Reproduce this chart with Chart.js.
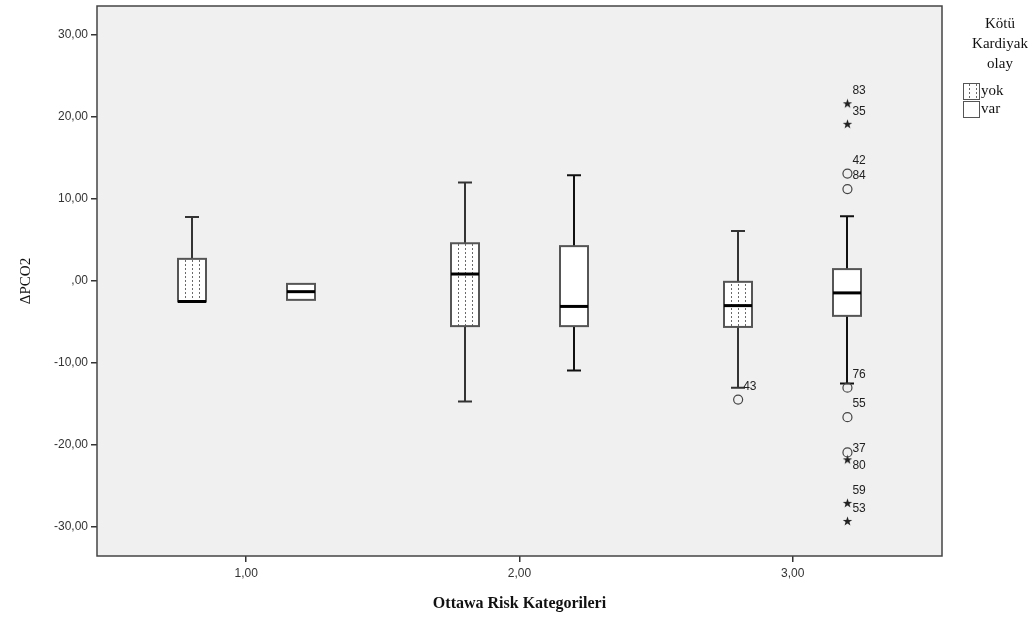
<!DOCTYPE html>
<html>
<head>
<meta charset="utf-8">
<script src="https://cdn.jsdelivr.net/npm/chart.js@4.4.1/dist/chart.umd.min.js"></script>
<style>
  html, body { margin: 0; padding: 0; background: #fff; }
</style>
</head>
<body>
<canvas id="chart" width="1035" height="618"></canvas>
<script>
// categories on the x axis and the two groups (Kötü Kardiyak olay)
const categories = [1, 2, 3];
const groups = ["yok", "var"];

// box statistics per category
const yokMin = [-2.5, -14.7, -13.0];
const yokQ1 = [-2.5, -5.5, -5.6];
const yokMedian = [-2.5, 0.85, -3.0];
const yokQ3 = [2.7, 4.6, -0.1];
const yokMax = [7.8, 12.0, 6.1];

const varMin = [-2.3, -10.9, -12.5];
const varQ1 = [-2.3, -5.5, -4.25];
const varMedian = [-1.3, -3.1, -1.45];
const varQ3 = [-0.35, 4.25, 1.45];
const varMax = [-0.35, 12.9, 7.9];

// outliers: category, group, value, case label, kind (o = outlier, * = extreme)
const outCategory = [3, 3, 3, 3, 3, 3, 3, 3, 3, 3, 3];
const outGroup = ["yok", "var", "var", "var", "var", "var", "var", "var", "var", "var", "var"];
const outValue = [-14.45, 21.6, 19.1, 13.1, 11.2, -13.0, -16.6, -20.9, -21.8, -27.1, -29.3];
const outLabel = ["43", "83", "35", "42", "84", "76", "55", "37", "80", "59", "53"];
const outKind = ["o", "*", "*", "o", "o", "o", "o", "o", "*", "*", "*"];

const xTicks = [1, 2, 3];
const yTicks = [-30, -20, -10, 0, 10, 20, 30];

// layout / style
const groupOffset = { yok: -0.2, var: 0.2 };
const labelShift = { "37": 9, "80": 19 };
const BOX_W = 28;
const CAP_W = 14;

const stats = {
  yok: { min: yokMin, q1: yokQ1, med: yokMedian, q3: yokQ3, max: yokMax },
  var: { min: varMin, q1: varQ1, med: varMedian, q3: varQ3, max: varMax }
};

function dotPattern(ctx) {
  const c = document.createElement("canvas");
  c.width = 7;
  c.height = 4;
  const g = c.getContext("2d");
  g.fillStyle = "#fff";
  g.fillRect(0, 0, 7, 4);
  g.fillStyle = "#6a6a6a";
  g.fillRect(3, 0, 1, 2);
  return ctx.createPattern(c, "repeat");
}

function starImage() {
  const c = document.createElement("canvas");
  c.width = 11;
  c.height = 11;
  const g = c.getContext("2d");
  g.fillStyle = "#222";
  g.beginPath();
  for (let i = 0; i < 10; i++) {
    const r = i % 2 === 0 ? 5 : 2;
    const a = -Math.PI / 2 + i * Math.PI / 5;
    const px = 5.5 + r * Math.cos(a);
    const py = 5.5 + r * Math.sin(a);
    if (i === 0) g.moveTo(px, py); else g.lineTo(px, py);
  }
  g.closePath();
  g.fill();
  return c;
}

function fmt(v) {
  if (v === 0) return ",00";
  return v.toFixed(2).replace(".", ",");
}

const idx = outValue.map((v, i) => i);
const circleIdx = idx.filter(i => outKind[i] === "o");
const starIdx = idx.filter(i => outKind[i] === "*");

const ctx = document.getElementById("chart");
const pattern = dotPattern(ctx.getContext("2d"));

const backgroundPlugin = {
  id: "background",
  beforeDraw(chart) {
    const { ctx, chartArea: a } = chart;
    ctx.save();
    ctx.fillStyle = "#fff";
    ctx.fillRect(0, 0, chart.width, chart.height);
    ctx.fillStyle = "#f0f0f0";
    ctx.fillRect(a.left, a.top, a.right - a.left, a.bottom - a.top);
    ctx.restore();
  }
};

const boxPlugin = {
  id: "boxes",
  beforeDatasetsDraw(chart) {
    const { ctx, scales: { x, y } } = chart;
    ctx.save();
    groups.forEach(grp => {
      const s = stats[grp];
      categories.forEach((c, i) => {
        const px = Math.round(x.getPixelForValue(c + groupOffset[grp]));
        const yq1 = y.getPixelForValue(s.q1[i]);
        const yq3 = y.getPixelForValue(s.q3[i]);
        const ymed = y.getPixelForValue(s.med[i]);
        const ymin = y.getPixelForValue(s.min[i]);
        const ymax = y.getPixelForValue(s.max[i]);

        ctx.strokeStyle = grp === "yok" ? "#333" : "#111";
        ctx.lineWidth = 2;
        ctx.beginPath();
        if (s.max[i] > s.q3[i]) {
          ctx.moveTo(px, yq3); ctx.lineTo(px, ymax);
          ctx.moveTo(px - CAP_W / 2, ymax); ctx.lineTo(px + CAP_W / 2, ymax);
        }
        if (s.min[i] < s.q1[i]) {
          ctx.moveTo(px, yq1); ctx.lineTo(px, ymin);
          ctx.moveTo(px - CAP_W / 2, ymin); ctx.lineTo(px + CAP_W / 2, ymin);
        }
        ctx.stroke();

        ctx.fillStyle = grp === "yok" ? pattern : "#fff";
        ctx.fillRect(px - BOX_W / 2, yq3, BOX_W, yq1 - yq3);
        ctx.strokeStyle = "#555";
        ctx.lineWidth = 2;
        ctx.strokeRect(px - BOX_W / 2, yq3, BOX_W, yq1 - yq3);

        ctx.strokeStyle = "#000";
        ctx.lineWidth = 3;
        ctx.beginPath();
        ctx.moveTo(px - BOX_W / 2, ymed);
        ctx.lineTo(px + BOX_W / 2, ymed);
        ctx.stroke();
      });
    });
    ctx.restore();
  },
  afterDatasetsDraw(chart) {
    const { ctx, scales: { x, y } } = chart;
    ctx.save();
    ctx.font = "12px 'Liberation Sans', Arial, sans-serif";
    ctx.fillStyle = "#222";
    ctx.textBaseline = "middle";
    ctx.textAlign = "left";
    outValue.forEach((v, i) => {
      const px = x.getPixelForValue(outCategory[i] + groupOffset[outGroup[i]]);
      const py = y.getPixelForValue(v);
      const dy = labelShift[outLabel[i]] !== undefined ? labelShift[outLabel[i]] : 0;
      ctx.fillText(outLabel[i], px + 5, py - 13 + dy);
    });
    ctx.restore();
  },
  afterDraw(chart) {
    const { ctx, chartArea: a } = chart;
    ctx.save();
    ctx.strokeStyle = "#444";
    ctx.lineWidth = 1.5;
    ctx.strokeRect(a.left, a.top, a.right - a.left, a.bottom - a.top);

    // legend
    ctx.fillStyle = "#111";
    ctx.font = "15px 'Liberation Serif', 'Times New Roman', serif";
    ctx.textAlign = "center";
    ctx.textBaseline = "middle";
    ["Kötü", "Kardiyak", "olay"].forEach((t, i) => {
      ctx.fillText(t, 1000, 24 + i * 20);
    });
    ctx.textAlign = "left";
    groups.forEach((g, i) => {
      const top = 83 + i * 18;
      ctx.fillStyle = g === "yok" ? pattern : "#fff";
      ctx.fillRect(963, top, 16, 16);
      ctx.strokeStyle = "#555";
      ctx.lineWidth = 1;
      ctx.strokeRect(963.5, top + 0.5, 16, 16);
      ctx.fillStyle = "#111";
      ctx.fillText(g, 981, top + 8);
    });
    ctx.restore();
  }
};

new Chart(ctx, {
  type: "scatter",
  data: {
    datasets: [
      {
        label: "outlier",
        data: circleIdx.map(i => ({ x: outCategory[i] + groupOffset[outGroup[i]], y: outValue[i] })),
        pointStyle: "circle",
        pointRadius: 4.5,
        borderColor: "#444",
        borderWidth: 1.2,
        backgroundColor: "rgba(0,0,0,0)"
      },
      {
        label: "extreme",
        data: starIdx.map(i => ({ x: outCategory[i] + groupOffset[outGroup[i]], y: outValue[i] })),
        pointStyle: starImage(),
        pointRadius: 5
      }
    ]
  },
  options: {
    responsive: false,
    animation: false,
    layout: { padding: { top: 3, right: 93, left: 0, bottom: 0 } },
    plugins: {
      legend: { display: false },
      tooltip: { enabled: false }
    },
    scales: {
      x: {
        type: "linear",
        min: 0.454,
        max: 3.546,
        afterBuildTicks: s => { s.ticks = xTicks.map(v => ({ value: v })); },
        afterFit: s => { s.height = 62; s.paddingLeft = 0; s.paddingRight = 0; },
        grid: { drawOnChartArea: false, drawTicks: true, tickLength: 6, tickColor: "#333", lineWidth: 1.5 },
        border: { display: false },
        ticks: {
          padding: 4,
          color: "#333",
          font: { family: "'Liberation Sans', Arial, sans-serif", size: 12 },
          callback: v => fmt(v)
        },
        title: {
          display: true,
          text: "Ottawa Risk Kategorileri",
          color: "#111",
          font: { family: "'Liberation Serif', 'Times New Roman', serif", size: 16, weight: "bold" },
          padding: { top: 0, bottom: 5 }
        }
      },
      y: {
        type: "linear",
        min: -33.52,
        max: 33.52,
        afterBuildTicks: s => { s.ticks = yTicks.map(v => ({ value: v })); },
        afterFit: s => { s.width = 97; s.paddingTop = 0; s.paddingBottom = 0; },
        grid: { drawOnChartArea: false, drawTicks: true, tickLength: 6, tickColor: "#333", lineWidth: 1.5 },
        border: { display: false },
        ticks: {
          padding: 3,
          color: "#333",
          font: { family: "'Liberation Sans', Arial, sans-serif", size: 12 },
          callback: v => fmt(v)
        },
        title: {
          display: true,
          text: "ΔPCO2",
          color: "#111",
          font: { family: "'Liberation Serif', 'Times New Roman', serif", size: 15 },
          padding: { top: 17, bottom: 0 }
        }
      }
    }
  },
  plugins: [backgroundPlugin, boxPlugin]
});
</script>
</body>
</html>
